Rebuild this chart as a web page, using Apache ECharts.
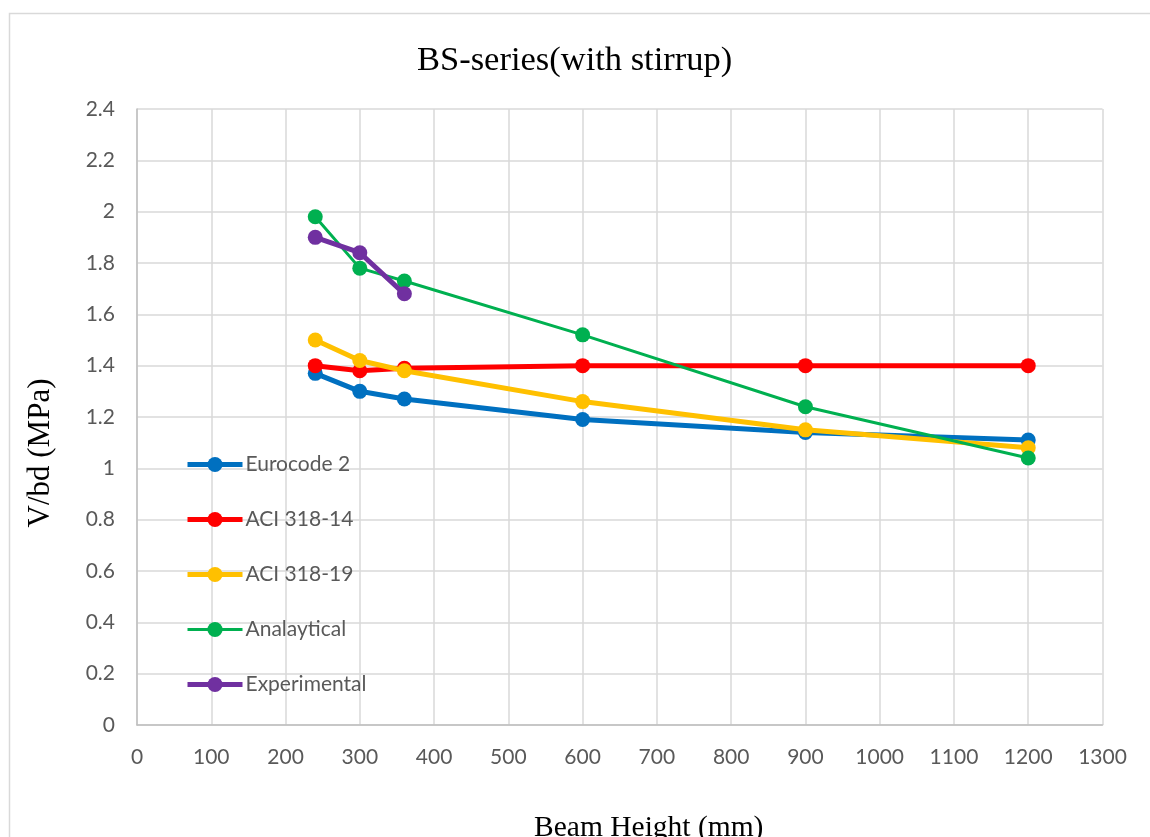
<!DOCTYPE html>
<html>
<head>
<meta charset="utf-8">
<title>BS-series(with stirrup)</title>
<script src="https://cdn.jsdelivr.net/npm/echarts@6/dist/echarts.min.js"></script>
<style>
  html, body { margin: 0; padding: 0; background: #ffffff; }
  #chart { width: 1150px; height: 837px; }
</style>
</head>
<body>
<div id="chart"></div>
<script>
// Beam heights (mm) shared by all design-code series
const beamHeights = [240, 300, 360, 600, 900, 1200];
// Experimental tests only cover the three smaller beams
const expHeights = [240, 300, 360];

// Normalised shear strength V/bd (MPa)
const eurocode2 = [1.37, 1.30, 1.27, 1.19, 1.14, 1.11];
const aci31814 = [1.40, 1.38, 1.39, 1.40, 1.40, 1.40];
const aci31819 = [1.50, 1.42, 1.38, 1.26, 1.15, 1.08];
const analytical = [1.98, 1.78, 1.73, 1.52, 1.24, 1.04];
const experimental = [1.90, 1.84, 1.68];

const seriesNames = ['Eurocode 2', 'ACI 318-14', 'ACI 318-19', 'Analaytical', 'Experimental'];
const seriesColors = ['#0070C0', '#FF0000', '#FFC000', '#00B050', '#7030A0'];
const seriesWidths = [5, 5, 5, 3, 5];

function pairs(xs, ys) {
  return xs.map((x, i) => [x, ys[i]]);
}

function lineSeries(idx, xs, ys) {
  return {
    name: seriesNames[idx],
    type: 'line',
    data: pairs(xs, ys),
    symbol: 'circle',
    symbolSize: 15,
    color: seriesColors[idx],
    lineStyle: { width: seriesWidths[idx], color: seriesColors[idx] },
    itemStyle: { color: seriesColors[idx] },
    emphasis: { disabled: true },
    animation: false,
    z: 2 + idx
  };
}

const tickFont = 'Lato, "Open Sans", sans-serif';
const serifFont = '"Liberation Serif", "Times New Roman", serif';

const chart = echarts.init(document.getElementById('chart'), null, { renderer: 'canvas' });

chart.setOption({
  backgroundColor: '#ffffff',
  animation: false,
  title: {
    text: 'BS-series(with stirrup)',
    left: 412,
    top: 38,
    textStyle: { fontFamily: serifFont, fontSize: 34.5, fontWeight: 'normal', color: '#000000' }
  },
  graphic: [{
    type: 'rect',
    shape: { x: 9.5, y: 13.5, width: 1200, height: 900 },
    style: { fill: 'none', stroke: '#d9d9d9', lineWidth: 1.5 },
    silent: true,
    z: -1
  }],
  grid: {
    left: 137, right: 47.5, top: 109, bottom: 112,
    containLabel: false,
    outerBoundsMode: 'none'
  },
  legend: {
    orient: 'vertical',
    left: 185,
    top: 454,
    padding: 0,
    itemWidth: 55,
    itemHeight: 19,
    itemGap: 34,
    data: seriesNames.map((n, i) => ({
      name: n,
      lineStyle: { width: seriesWidths[i] }
    })),
    textStyle: { fontFamily: tickFont, fontSize: 21, color: '#595959', padding: [0, 0, 0, -2] }
  },
  xAxis: {
    type: 'value',
    min: 0,
    max: 1300,
    interval: 100,
    name: 'Beam Height (mm)',
    nameLocation: 'middle',
    nameGap: 88,
    nameTextStyle: { fontFamily: serifFont, fontSize: 29.5, color: '#000000', padding: [0, 0, 0, 58] },
    axisLine: { show: true, lineStyle: { color: '#bfbfbf', width: 1.5 } },
    axisTick: { show: false },
    axisLabel: { fontFamily: tickFont, fontSize: 21, color: '#595959', margin: 22, formatter: v => String(v) },
    splitLine: { show: true, lineStyle: { color: '#d9d9d9', width: 1.5 } }
  },
  yAxis: {
    type: 'value',
    min: 0,
    max: 2.4,
    interval: 0.2,
    name: 'V/bd (MPa)',
    nameLocation: 'middle',
    nameGap: 81,
    nameTextStyle: { fontFamily: serifFont, fontSize: 31, color: '#000000', padding: [0, 72, 0, 0] },
    axisLine: { show: true, lineStyle: { color: '#bfbfbf', width: 1.5 } },
    axisTick: { show: false },
    axisLabel: { fontFamily: tickFont, fontSize: 21, color: '#595959', margin: 22 },
    splitLine: { show: true, lineStyle: { color: '#d9d9d9', width: 1.5 } }
  },
  series: [
    lineSeries(0, beamHeights, eurocode2),
    lineSeries(1, beamHeights, aci31814),
    lineSeries(2, beamHeights, aci31819),
    lineSeries(3, beamHeights, analytical),
    lineSeries(4, expHeights, experimental)
  ]
});
</script>
</body>
</html>
